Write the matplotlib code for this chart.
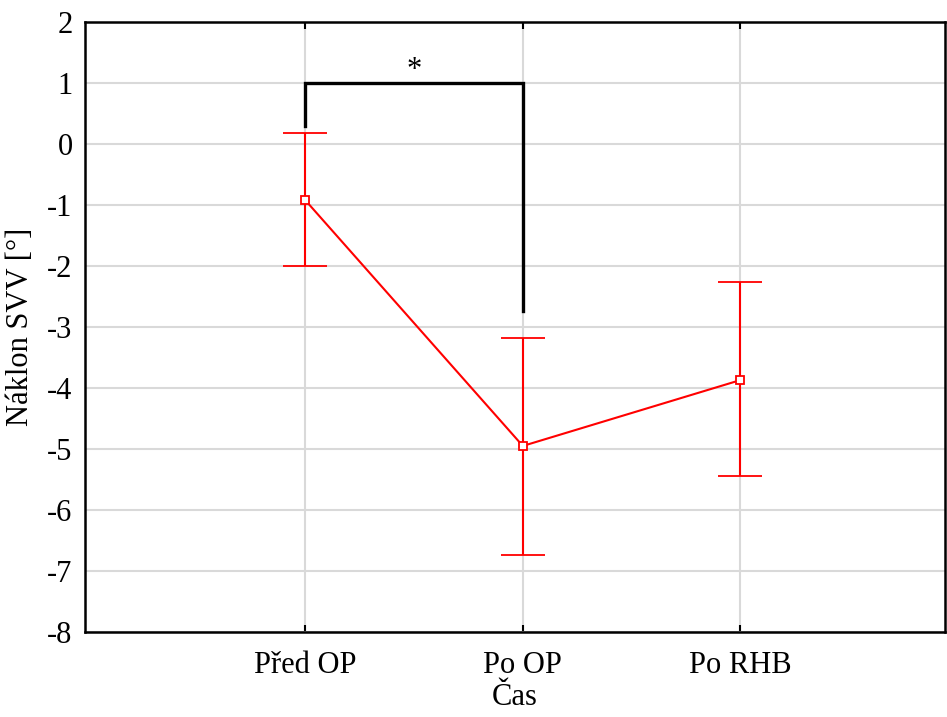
import matplotlib
matplotlib.use("Agg")
import matplotlib.pyplot as plt

categories = ["Před OP", "Po OP", "Po RHB"]
means = [-0.92, -4.95, -3.87]
upper = [0.18, -3.18, -2.27]
lower = [-2.0, -6.73, -5.45]
y_ticks = [2, 1, 0, -1, -2, -3, -4, -5, -6, -7, -8]
bracket_y = [0.3, 1.0, 1.0, -2.73]
star_label = "*"

plt.rcParams['font.family'] = ['Liberation Serif', 'DejaVu Serif']

fig = plt.figure(figsize=(9.47, 7.17), dpi=100)
ax = fig.add_axes([85/947, (717-632)/717, 860/947, 610/717])

x = [1, 2, 3]
yerr = [[m - l for m, l in zip(means, lower)], [u - m for m, u in zip(means, upper)]]
ax.errorbar(x, means, yerr=yerr, color='#ff0000', lw=1.5, elinewidth=1.5,
            capsize=15.5, capthick=1.5, marker='s', ms=6, mfc='white',
            mec='#ff0000', mew=1.3, zorder=3)

bx = [1, 1, 2, 2]
ax.plot(bx, bracket_y, color='black', lw=2.4, solid_joinstyle='miter', zorder=4)
ax.text(1.5, 0.97, star_label, ha='center', va='bottom', fontsize=22)

ax.set_xlim(-0.012, 3.94)
ax.set_ylim(-8, 2)
ax.set_yticks(y_ticks)
ax.set_yticklabels([str(v) for v in y_ticks])
ax.set_xticks(x)
ax.set_xticklabels(categories)
ax.grid(True, color='#d9d9d9', lw=1.5)
ax.set_axisbelow(True)
ax.tick_params(axis='x', direction='in', length=5, width=1.5, top=True, labelsize=22, pad=14)
ax.tick_params(axis='y', length=0, labelsize=22, pad=9)
for s in ax.spines.values():
    s.set_linewidth(1.8)
ax.set_xlabel("Čas", fontsize=22, labelpad=2)
ax.set_ylabel("Náklon SVV [°]", fontsize=22, labelpad=9)

fig.savefig("out.png", dpi=100)
